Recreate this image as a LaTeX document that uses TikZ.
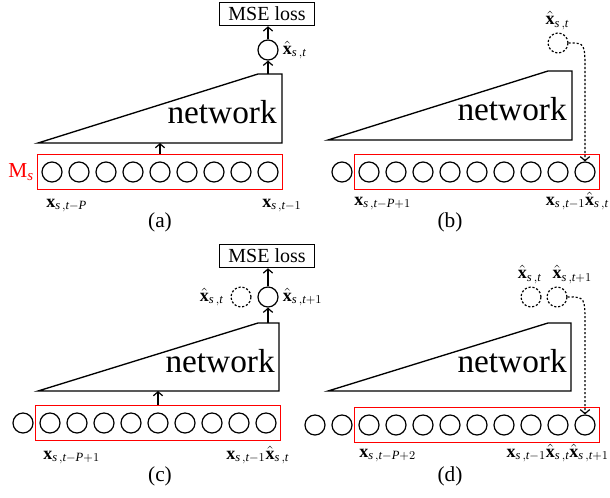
\documentclass[tikz,border=0pt]{standalone}
\usepackage{fontspec}
\setmainfont{Liberation Serif}
\usetikzlibrary{arrows.meta,fit,positioning}

\tikzset{
  cell/.style={circle, draw, line width=0.9pt, minimum size=15pt, inner sep=0pt},
  ghost/.style={cell, dash pattern=on 1.6pt off 1.4pt},
  membox/.style={draw=red, line width=0.8pt, inner xsep=3pt, inner ysep=5.5pt},
  net/.style={line width=1pt},
  nettext/.style={font=\fontsize{25}{28}\selectfont, inner sep=0pt},
  loss/.style={draw, line width=0.9pt, minimum width=71pt, minimum height=17.5pt,
    inner sep=1pt, font=\fontsize{15}{17}\selectfont},
  lbl/.style={font=\fontsize{13.5}{15}\selectfont, inner sep=0pt},
  sublbl/.style={font=\fontsize{16}{18}\selectfont, inner sep=0pt},
  flow/.style={-{Straight Barb[length=3pt,width=7pt]}, line width=0.9pt},
  feed/.style={flow, dash pattern=on 1.6pt off 1.4pt},
}
% vectors with italic letters, upright digits in the index
\newcommand{\xv}[1]{\mathbf{x}_{#1}}
\newcommand{\xh}[1]{\hat{\mathbf{x}}_{#1}}
\newcommand{\st}{\mathit{s}\,,\mathit{t}}
\newcommand{\Pw}{\mathit{P}}

\begin{document}
\begin{tikzpicture}[x=0.75pt,y=-0.75pt]
\useasboundingbox (0,0) rectangle (610,497);

% (a) training on the true window
\foreach \i in {1,...,9} \node[cell] (a\i) at ({25+27*\i},172) {};
\node[membox, fit=(a1)(a9)] (Ma) {};
\node[red, font=\fontsize{16}{18}\selectfont, anchor=east, inner sep=2pt] (Mlbl) at (Ma.west) {M$_{\mathit{s}}$};
\coordinate (na1) at (38,143);
\coordinate (na2) at (258,74);
\coordinate (na3) at (282,74);
\coordinate (na4) at (282,143);
\draw[net] (na1) -- (na2) -- (na3) -- (na4) -- cycle;
\node[nettext, anchor=base east] (neta) at (277,123) {network};
\draw[flow] (Ma.north -| a5) -- (a5 |- na1);
\node[cell] (ya) at (268,50) {};
\node[loss] (la) at (267,14) {MSE loss};
\draw[flow] (ya |- na3) -- (ya.south);
\draw[flow] (ya.north) -- (ya |- la.south);
\node[lbl, anchor=west] (yalbl) at ([xshift=3pt]ya.east) {$\xh{\st}$};
\node[lbl, anchor=base west] (xa1) at (46,207) {$\xv{\st-\Pw}$};
\node[lbl, anchor=base west] (xa9) at (262,207) {$\xv{\st-1}$};
\node[sublbl] (capa) at (160,222) {(a)};

% (b) prediction fed back into the window
\foreach \i in {0,...,9} \node[cell] (b\i) at ({342+27*\i},172) {};
\node[membox, fit=(b1)(b9)] (Mb) {};
\coordinate (nb1) at (328,140);
\coordinate (nb2) at (548,71);
\coordinate (nb3) at (572,71);
\coordinate (nb4) at (572,140);
\draw[net] (nb1) -- (nb2) -- (nb3) -- (nb4) -- cycle;
\node[nettext, anchor=base east] (netb) at (567,120) {network};
\node[ghost] (pb) at (558,43) {};
\node[lbl, anchor=south west] (pblbl) at ([yshift=2pt,xshift=-9.5pt]pb.north) {$\xh{\st}$};
\coordinate (bendb) at (b9 |- 0,72);
\draw[feed] (pb.east) .. controls (bendb |- pb.east) .. (bendb) -- (b9.north);
\node[lbl, anchor=base west] (xb1) at (354,205) {$\xv{\st-\Pw+1}$};
\node[lbl, anchor=base east] (xb9) at (609,205) {$\xv{\st-1}\xh{\st}$};
\node[sublbl] (capb) at (450,222) {(b)};

% (c) training on the shifted window
\foreach \i in {0,...,9} \node[cell] (c\i) at ({23+27*\i},423) {};
\node[membox, fit=(c1)(c9)] (Mc) {};
\coordinate (nc1) at (38,391);
\coordinate (nc2) at (258,323);
\coordinate (nc3) at (279,323);
\coordinate (nc4) at (279,391);
\draw[net] (nc1) -- (nc2) -- (nc3) -- (nc4) -- cycle;
\node[nettext, anchor=base east] (netc) at (275,372) {network};
\draw[flow] (Mc.north -| c5) -- (c5 |- nc1);
\node[cell] (yc) at (268,297) {};
\node[ghost] (pc) at (241,297) {};
\node[loss] (lc) at (267,256) {MSE loss};
\draw[flow] (yc |- nc3) -- (yc.south);
\draw[flow] (yc.north) -- (yc |- lc.south);
\node[lbl, anchor=east] (pclbl) at ([xshift=-5pt]pc.west) {$\xh{\st}$};
\node[lbl, anchor=west] (yclbl) at ([xshift=3pt]yc.east) {$\xh{\st+1}$};
\node[lbl, anchor=base west] (xc1) at (43,459) {$\xv{\st-\Pw+1}$};
\node[lbl, anchor=base west] (xc9) at (226,459) {$\xv{\st-1}\xh{\st}$};
\node[sublbl] (capc) at (160,476) {(c)};

% (d) two predictions fed back
\foreach \i in {0,...,10} \node[cell] (d\i) at ({315+27*\i},425) {};
\node[membox, fit=(d2)(d10)] (Md) {};
\coordinate (nd1) at (328,391);
\coordinate (nd2) at (548,323);
\coordinate (nd3) at (571,323);
\coordinate (nd4) at (571,391);
\draw[net] (nd1) -- (nd2) -- (nd3) -- (nd4) -- cycle;
\node[nettext, anchor=base east] (netd) at (567,372) {network};
\node[ghost] (pd1) at (531,297) {};
\node[ghost] (pd2) at (557,297) {};
\node[lbl, anchor=south west] (pd1lbl) at ([yshift=2pt,xshift=-10pt]pd1.north) {$\xh{\st}$};
\node[lbl, anchor=south west] (pd2lbl) at ([yshift=2pt,xshift=-3.5pt]pd2.north) {$\xh{\st+1}$};
\coordinate (bendd) at (d10 |- 0,326);
\draw[feed] (pd2.east) .. controls (bendd |- pd2.east) .. (bendd) -- (d10.north);
\node[lbl, anchor=base west] (xd1) at (359,457) {$\xv{\st-\Pw+2}$};
\node[lbl, anchor=base east] (xd10) at (609,457) {$\xv{\st-1}\xh{\st}\xh{\st+1}$};
\node[sublbl] (capd) at (450,476) {(d)};
\end{tikzpicture}
\end{document}
